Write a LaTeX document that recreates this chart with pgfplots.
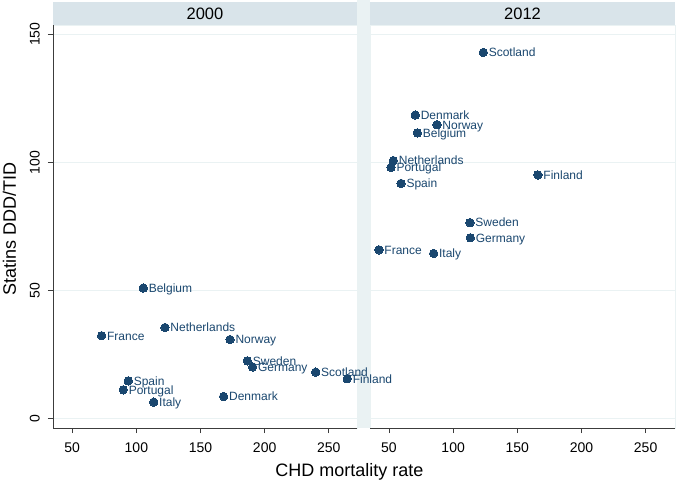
\documentclass[border=0pt]{standalone}
\usepackage{pgfplots}
\pgfplotsset{compat=1.18}
\usepackage{fontspec}
\setmainfont{Liberation Sans}
\definecolor{navy}{RGB}{26,71,111}
\definecolor{gridc}{RGB}{234,242,243}
\definecolor{stripc}{RGB}{217,228,234}
\definecolor{axc}{RGB}{60,60,60}

\pgfplotstableread{
x y label
105.4 51.0 Belgium
72.9 32.4 France
122.3 35.6 Netherlands
173.0 30.9 Norway
186.5 22.6 Sweden
190.6 20.2 Germany
239.8 18.2 Scotland
93.7 14.8 Spain
89.8 11.3 Portugal
113.5 6.5 Italy
168.0 8.7 Denmark
264.4 15.6 Finland
}\dataA

\pgfplotstableread{
x y label
123.5 142.9 Scotland
70.5 118.5 Denmark
87.4 114.7 Norway
72.1 111.5 Belgium
53.4 100.7 Netherlands
51.6 98.1 Portugal
59.4 91.8 Spain
166.1 95.1 Finland
113.1 76.5 Sweden
113.4 70.6 Germany
42.2 65.9 France
84.8 64.5 Italy
}\dataB

\pgfplotsset{
  panel/.style={
    scale only axis, height=403pt, ymin=-3.6, ymax=153.6,
    xtick={50,100,150,200,250}, ytick={0,50,100,150},
    ymajorgrids, major grid style={gridc, line width=0.9pt},
    clip=false,
    /pgf/number format/assume math mode=true,
    tick align=outside, major tick length=5pt,
    tick style={axc, line width=0.6pt},
    axis x line*=bottom,
    axis line style={-, axc, line width=0.8pt},
    xticklabel style={font=\fontsize{14}{16}\selectfont, inner sep=0pt, anchor=north, yshift=-10pt},
  },
  pts/.style={only marks, mark=*, mark size=4.2pt, mark options={fill=navy, draw=navy, line width=0pt},
    nodes near coords, point meta=explicit symbolic,
    nodes near coords style={anchor=base west, inner sep=0pt, xshift=5.5pt, yshift=-4.3pt,
      font=\fontsize{12}{14}\selectfont, text=navy}},
}

\begin{document}
\begin{tikzpicture}[x=1pt,y=1pt]
\path[use as bounding box, fill=white] (0,0) rectangle (677,482);
\fill[gridc] (357,54) rectangle (370,482);
\draw[gridc, line width=0.8pt] (53,54) rectangle (357,457);
\draw[gridc, line width=0.8pt] (370,54) rectangle (675,457);
\fill[stripc] (53,457) rectangle (357,480);
\fill[stripc] (370,457) rectangle (675,480);
\node[font=\fontsize{16.5}{18}\selectfont, anchor=center] at (205,468.5) {2000};
\node[font=\fontsize{16.5}{18}\selectfont, anchor=center] at (522.5,468.5) {2012};

\begin{axis}[panel, at={(53pt,54pt)}, anchor=south west, width=304pt,
  xmin=35, xmax=272,
  axis y line*=left,
  yticklabel style={font=\fontsize{14}{16}\selectfont, inner sep=0pt, rotate=90, anchor=south, yshift=8pt},
]
\addplot[pts] table[x=x, y=y, meta=label] {\dataA};
\end{axis}

\begin{axis}[panel, at={(370pt,54pt)}, anchor=south west, width=305pt,
  xmin=35.2, xmax=272.9,
  axis y line*=left, y axis line style={draw=none}, ytick style={draw=none}, yticklabels={},
]
\addplot[pts] table[x=x, y=y, meta=label] {\dataB};
\end{axis}

\node[font=\fontsize{18}{20}\selectfont, rotate=90, anchor=base] at (16,253) {Statins DDD/TID};
\node[font=\fontsize{18}{20}\selectfont, anchor=base] at (349.5,6) {CHD mortality rate};
\end{tikzpicture}
\end{document}
